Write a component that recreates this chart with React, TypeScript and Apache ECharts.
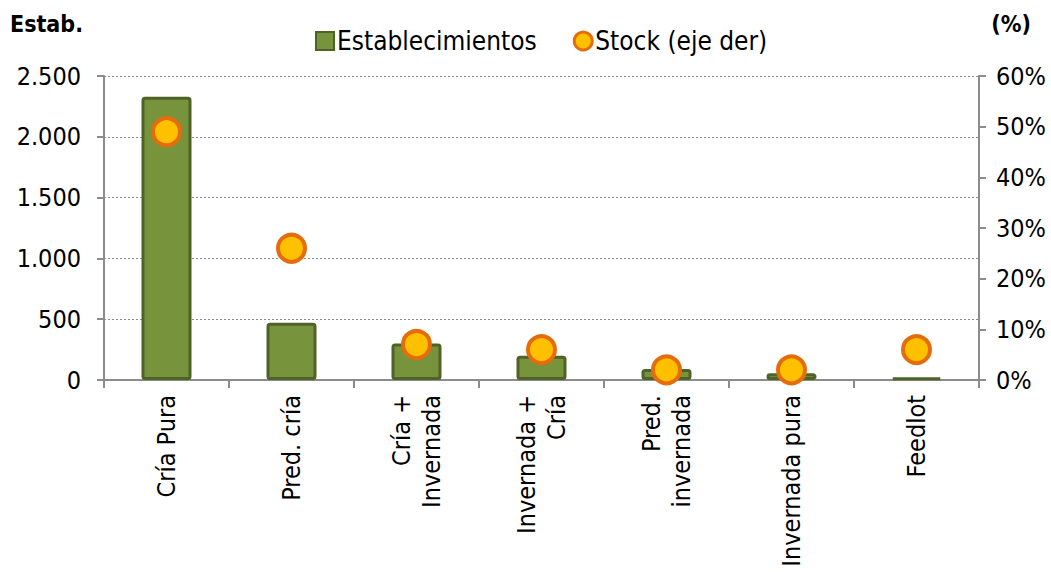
import React, { useEffect, useRef } from "react";
import * as echarts from "echarts";

const categories = [
  "Cría Pura",
  "Pred. cría",
  "Cría +\nInvernada",
  "Invernada +\nCría",
  "Pred.\ninvernada",
  "Invernada pura",
  "Feedlot",
];
const establecimientos = [2330, 470, 300, 200, 90, 55, 20];
const stockPct = [49, 26, 7, 6, 2, 2, 6];
const leftTicks = { min: 0, max: 2500, interval: 500 };
const rightTicks = { min: 0, max: 60, interval: 10 };

const FONT = "DejaVu Sans Condensed";
const FS = 25;

export default function App() {
  const ref = useRef<HTMLDivElement>(null);
  useEffect(() => {
    document.body.style.margin = "0";
    if (!ref.current) return;
    const chart = echarts.init(ref.current, undefined, { renderer: "svg" });
    chart.setOption({
      animation: false,
      textStyle: { fontFamily: FONT },
      grid: { left: 104, right: 72, top: 76, bottom: 192, containLabel: false },
      graphic: [
        {
          type: "text",
          left: 10,
          top: 12,
          style: { text: "Estab.", font: `bold 23px "${FONT}"`, fill: "#000" },
        },
        {
          type: "text",
          right: 20,
          top: 12,
          style: { text: "(%)", font: `bold 23px "${FONT}"`, fill: "#000" },
        },
      ],
      legend: {
        top: 28,
        left: 315,
        padding: 0,
        itemGap: 36,
        itemWidth: 18,
        itemHeight: 18,
        textStyle: { fontFamily: FONT, fontSize: 26, color: "#000", padding: [0, 0, 0, -2] },
        data: [
          {
            name: "Establecimientos",
            icon: "rect",
            itemStyle: { color: "#77933C", borderColor: "#4F6228", borderWidth: 2 },
          },
          {
            name: "Stock (eje der)",
            icon: "circle",
            itemStyle: { color: "#FFC000", borderColor: "#E46C0A", borderWidth: 3 },
          },
        ],
      },
      xAxis: {
        type: "category",
        data: categories,
        boundaryGap: true,
        axisLine: { lineStyle: { color: "#8c8c8c", width: 2 } },
        axisTick: { show: true, length: 8, lineStyle: { color: "#8c8c8c", width: 2 } },
        axisLabel: {
          rotate: 90,
          interval: 0,
          margin: 15,
          fontFamily: FONT,
          fontSize: FS,
          color: "#000",
          lineHeight: 30,
          align: "right",
        },
      },
      yAxis: [
        {
          type: "value",
          min: leftTicks.min,
          max: leftTicks.max,
          interval: leftTicks.interval,
          axisLine: { show: true, lineStyle: { color: "#8c8c8c", width: 2 } },
          axisTick: { show: true, length: 7, lineStyle: { color: "#8c8c8c", width: 2 } },
          axisLabel: {
            margin: 23,
            fontFamily: FONT,
            fontSize: FS,
            color: "#000",
            formatter: (v: number) => v.toLocaleString("de-DE"),
          },
          splitLine: { show: true, lineStyle: { color: "#8c8c8c", type: [2, 2], width: 1 } },
        },
        {
          type: "value",
          min: rightTicks.min,
          max: rightTicks.max,
          interval: rightTicks.interval,
          position: "right",
          axisLine: { show: true, lineStyle: { color: "#8c8c8c", width: 2 } },
          axisTick: { show: true, length: 7, lineStyle: { color: "#8c8c8c", width: 2 } },
          axisLabel: {
            margin: 17,
            fontFamily: FONT,
            fontSize: FS,
            color: "#000",
            formatter: (v: number) => `${v}%`,
          },
          splitLine: { show: false },
        },
      ],
      series: [
        {
          name: "Establecimientos",
          type: "bar",
          yAxisIndex: 0,
          data: establecimientos,
          barWidth: 50,
          itemStyle: {
            color: "#77933C",
            borderColor: "#4F6228",
            borderWidth: 3,
            borderRadius: 2,
          },
        },
        {
          name: "Stock (eje der)",
          type: "scatter",
          yAxisIndex: 1,
          data: stockPct,
          symbol: "circle",
          symbolSize: 27,
          itemStyle: { color: "#FFC000", borderColor: "#E46C0A", borderWidth: 4, opacity: 1 },
          z: 5,
        },
      ],
    });
    return () => chart.dispose();
  }, []);
  return <div ref={ref} style={{ width: 1051, height: 572 }} />;
}
